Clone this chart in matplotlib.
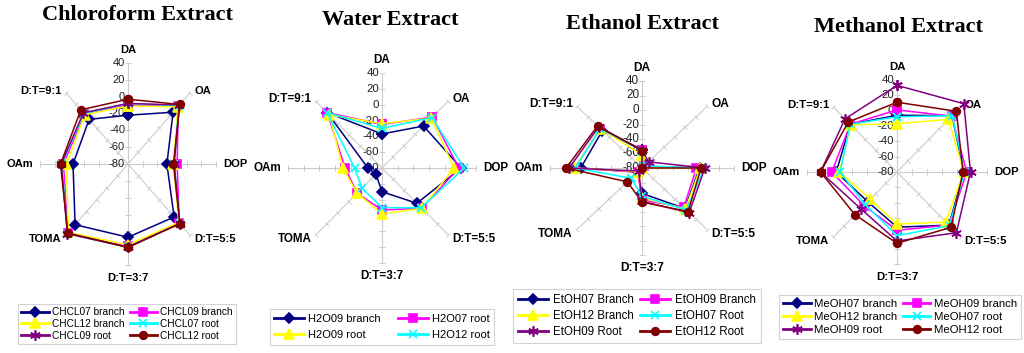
import numpy as np
import matplotlib.pyplot as plt

W, H = 1024, 353

categories = ['DA', 'OA', 'DOP', 'D:T=5:5', 'D:T=3:7', 'TOMA', 'OAm', 'D:T=9:1']
rticks = [-80, -60, -40, -20, 0, 20, 40]

# chloroform extract
chcl_names = ['CHCL07 branch', 'CHCL09 branch', 'CHCL12 branch',
              'CHCL07 root', 'CHCL09 root', 'CHCL12 root']
chcl07_branch = [-22, 7, -27, 9, 7, 22, -5, -5]
chcl09_branch = [-10, 17, -13, 19, 18, 36, 8, 4]
chcl12_branch = [-11, 16, -18, 18, 16, 35, 4, 3]
chcl07_root = [-8, 18, -17, 20, 19, 37, 10, 5]
chcl09_root = [-8, 19, -17, 20, 19, 37, 11, 6]
chcl12_root = [-3, 20, -18, 20, 19, 36, 12, 11]

# water extract
h2o_names = ['H2O09 branch', 'H2O07 root', 'H2O09 root', 'H2O12 root']
h2o09_branch = [-37, -5, 21, -17, -50, -69, -62, 19]
h2o07_root = [-25, 11, 18, -8, -27, -35, -33, 19]
h2o09_root = [-24, 9, 12, -8, -22, -35, -30, 15]
h2o12_root = [-30, 10, 25, -9, -30, -44, -45, 19]

# ethanol extract
etoh_names = ['EtOH07 Branch', 'EtOH09 Branch', 'EtOH12 Branch',
              'EtOH07 Root', 'EtOH09 Root', 'EtOH12 Root']
etoh07_branch = [-55, -77, -5, -1, -45, -72, 0, -7]
etoh09_branch = [-55, -76, -9, -3, -36, -72, 8, -3]
etoh12_branch = [-62, -80, -4, 0, -39, -73, 8, -3]
etoh07_root = [-56, -76, 1, 2, -41, -60, 7, -3]
etoh09_root = [-55, -68, 2, 7, -34, -74, 15, 0]
etoh12_root = [-56, -80, -3, 5, -33, -53, 19, 2]

# methanol extract
meoh_names = ['MeOH07 branch', 'MeOH09 branch', 'MeOH12 branch',
              'MeOH07 root', 'MeOH09 root', 'MeOH12 root']
meoh07_branch = [-6, 24, 9, 18, -8, -25, 1, 8]
meoh09_branch = [1, 23, 13, 18, -4, -18, 7, 8]
meoh12_branch = [-17, 17, 9, 12, -12, -30, -3, 7]
meoh07_root = [-8, 24, 10, 19, 3, -20, -4, 8]
meoh09_root = [33, 46, 18, 32, 10, -12, 22, 18]
meoh12_root = [11, 32, 8, 22, 13, -1, 22, 12]

navy, magenta, yellow, cyan, purple, darkred = '#000080', '#FF00FF', '#FFFF00', '#00FFFF', '#800080', '#800000'
mk = {navy: ('D', 5), magenta: ('s', 5.5), yellow: ('^', 6.5), cyan: ('x', 6),
      purple: ((6, 2, 0), 7.5), darkred: ('o', 5.5)}

grid_c = '#cccccc'
sans = 'Liberation Sans'

# where each category label sits next to its spoke end (pixels)
label_off = [(0, 13, 'center', 'center'), (4, 2, 'left', 'center'), (7, 0, 'left', 'center'),
             (4, -4, 'left', 'center'), (0, -13, 'center', 'center'), (-4, -4, 'right', 'center'),
             (-7, 0, 'right', 'center'), (-4, 2, 'right', 'center')]

fig = plt.figure(figsize=(W / 100, H / 100), dpi=100)


def radar(box, title, title_xy, names, data, colors, order, leg_xy, cat_fs, r_fs, leg_fs, leg_opts):
    x0, y0, x1, y1 = box
    ax = fig.add_axes([x0 / W, 1 - y1 / H, (x1 - x0) / W, (y1 - y0) / H], projection='polar')
    ax.set_aspect('auto')
    ax.set_theta_offset(np.pi / 2)
    ax.set_theta_direction(-1)
    ax.set_ylim(-80, 40)
    theta = np.arange(len(categories)) * 2 * np.pi / len(categories)
    ax.set_xticks(theta)
    ax.set_xticklabels([])
    ax.set_yticks([])
    ax.tick_params(length=0)
    ax.xaxis.grid(True, color=grid_c, lw=0.8)
    ax.spines['polar'].set_visible(False)
    ax.patch.set_alpha(0)

    # little cross ticks along every spoke
    for i, t in enumerate(theta):
        ax.plot([t] * (len(rticks) - 1), rticks[1:], ls='none', marker=(2, 0, 90 - i * 45),
                ms=4, mew=0.7, color=grid_c, clip_on=False, zorder=1)

    for v in rticks:
        ax.annotate(str(v), xy=(0, v), xytext=(-3, 0), textcoords='offset pixels',
                    ha='right', va='center', fontsize=r_fs, family=sans, color='#202020')

    for i, t in enumerate(theta):
        dx, dy, ha, va = label_off[i]
        ax.annotate(categories[i], xy=(t, 40), xytext=(dx, dy), textcoords='offset pixels',
                    ha=ha, va=va, fontsize=cat_fs, fontweight='bold', family=sans,
                    annotation_clip=False)

    th = np.append(theta, theta[0])
    handles = []
    for name, vals, c in zip(names, data, colors):
        m, ms = mk[c]
        ln, = ax.plot(th, np.append(vals, vals[0]), color=c, lw=1.1, marker=m, ms=ms,
                      mfc=c, mec=c, mew=1.2, clip_on=False, label=name, zorder=3)
        handles.append(ln)

    fig.text(title_xy[0] / W, 1 - title_xy[1] / H, title, ha='center', va='center',
             fontsize=16, fontweight='bold', family='Liberation Serif')

    hs = [handles[k] for k in order]
    leg = fig.legend(hs, [h.get_label() for h in hs], loc='center',
                     bbox_to_anchor=(leg_xy[0] / W, 1 - leg_xy[1] / H), ncol=2,
                     prop={'family': sans, 'size': leg_fs}, fancybox=False,
                     edgecolor='#c8c8c8', borderaxespad=0, numpoints=1, **leg_opts)
    leg.get_frame().set_linewidth(0.8)
    for h in leg.legend_handles:
        h.set_linewidth(2)
    return ax


six = [navy, magenta, yellow, cyan, purple, darkred]

radar((40, 63, 216, 265), 'Chloroform Extract', (137, 15), chcl_names,
      [chcl07_branch, chcl09_branch, chcl12_branch, chcl07_root, chcl09_root, chcl12_root],
      six, [0, 2, 4, 1, 3, 5], (127, 324), 8, 8, 7.3,
      dict(handlelength=2.7, handletextpad=0.3, columnspacing=0.5, labelspacing=0.15, borderpad=0.35))

radar((288, 73, 476, 263), 'Water Extract', (390, 20), h2o_names,
      [h2o09_branch, h2o07_root, h2o09_root, h2o12_root],
      [navy, magenta, yellow, cyan], [0, 2, 1, 3], (382, 327), 8.4, 8.2, 8,
      dict(handlelength=2.7, handletextpad=0.4, columnspacing=1.5, labelspacing=0.6, borderpad=0.4))

radar((550, 81, 734, 255), 'Ethanol Extract', (643, 24), etoh_names,
      [etoh07_branch, etoh09_branch, etoh12_branch, etoh07_root, etoh09_root, etoh12_root],
      six, [0, 2, 4, 1, 3, 5], (637, 316), 8.6, 8.4, 8.3,
      dict(handlelength=2.6, handletextpad=0.4, columnspacing=0.6, labelspacing=0.35, borderpad=0.4))

radar((807, 80, 987, 264), 'Methanol Extract', (898, 27), meoh_names,
      [meoh07_branch, meoh09_branch, meoh12_branch, meoh07_root, meoh09_root, meoh12_root],
      six, [0, 2, 4, 1, 3, 5], (900, 317), 8.2, 8.2, 8.2,
      dict(handlelength=2.4, handletextpad=0.3, columnspacing=0.5, labelspacing=0.3, borderpad=0.35))

fig.savefig('out.png', dpi=100, facecolor='white')
